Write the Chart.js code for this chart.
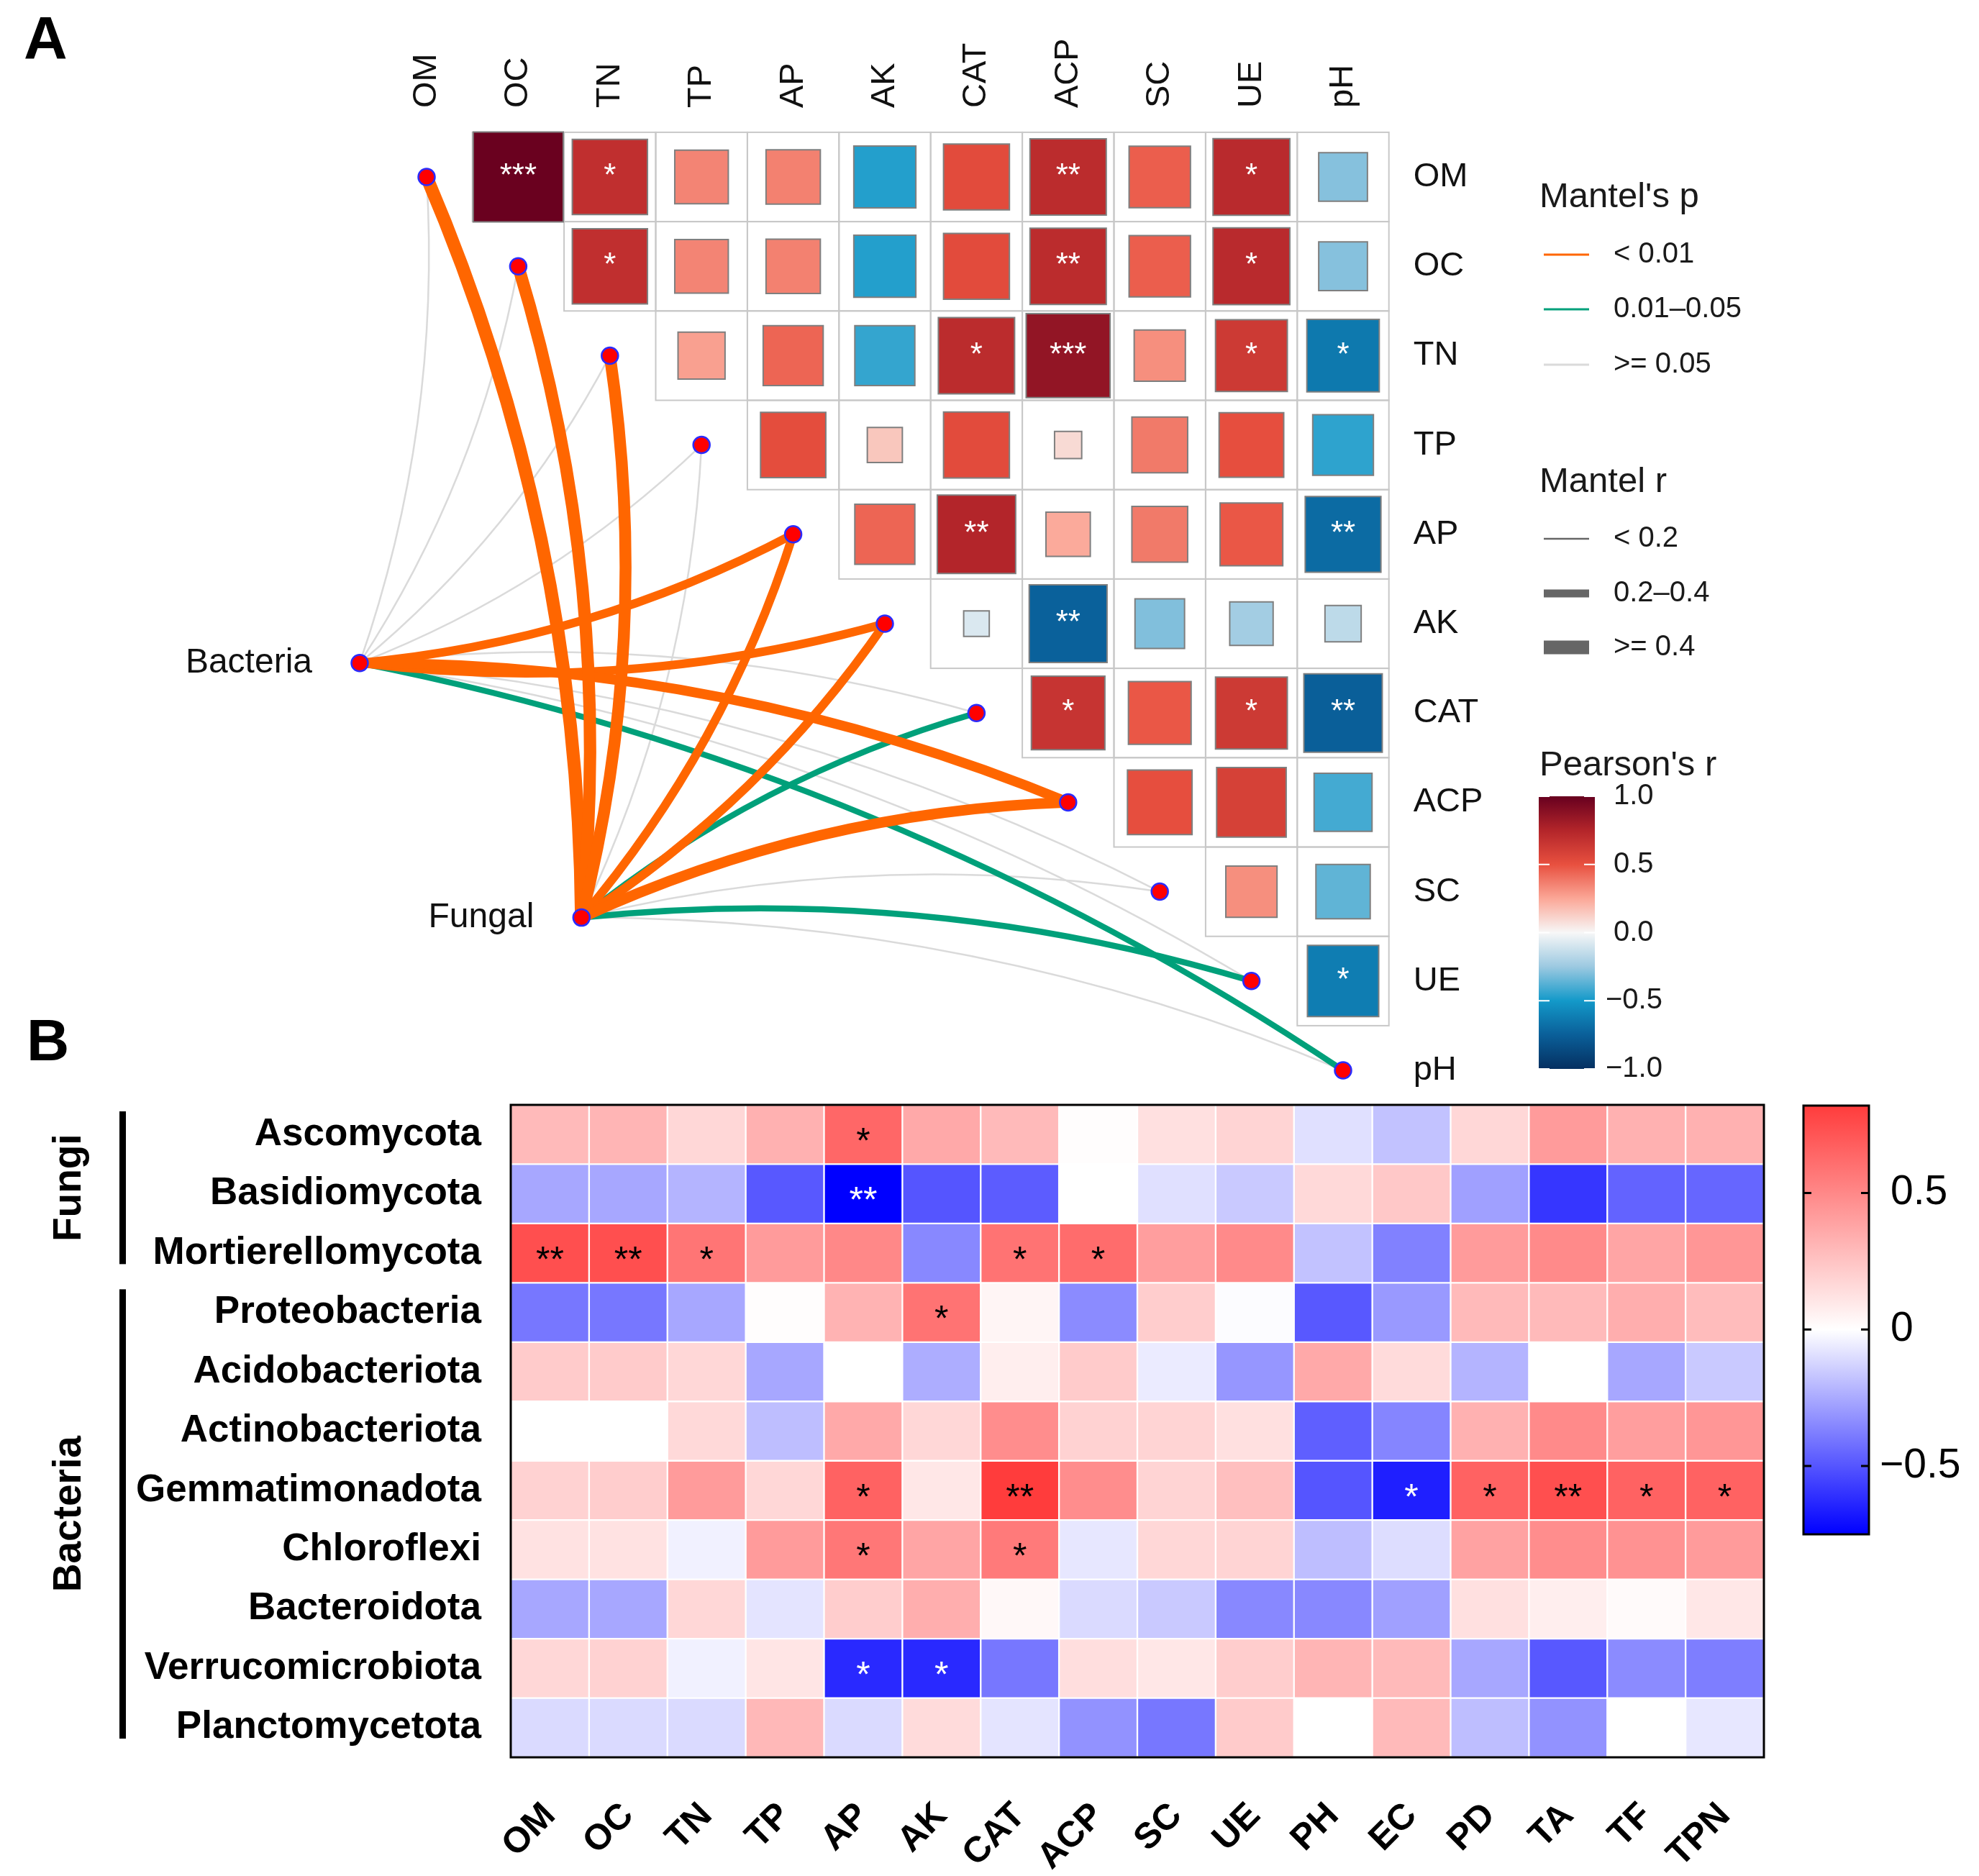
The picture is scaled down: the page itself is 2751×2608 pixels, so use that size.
<!DOCTYPE html>
<html><head><meta charset="utf-8">
<script src="https://cdn.jsdelivr.net/npm/chart.js@4.4.1/dist/chart.umd.min.js"></script>
<style>
html,body{margin:0;padding:0;background:#fff;}
#wrap{position:relative;width:2751px;height:2608px;background:#fff;}
canvas{position:absolute;left:0;top:0;width:2751px;height:2608px;}
</style></head><body>
<div id="wrap"><canvas id="cA" width="2751" height="2608"></canvas><canvas id="cB" width="2751" height="2608"></canvas></div>
<script>
// ---------------- DATA : panel A ----------------
const envA = ['OM','OC','TN','TP','AP','AK','CAT','ACP','SC','UE','pH'];
// Pearson's r, upper triangle (row variable vs following variables)
const corrOM  = [0.99,0.69,0.35,0.36,-0.47,0.53,0.71,0.46,0.72,-0.29];
const corrOC  = [0.69,0.35,0.36,-0.47,0.53,0.71,0.46,0.72,-0.29];
const corrTN  = [0.27,0.44,-0.44,0.71,0.86,0.32,0.63,-0.64];
const corrTP  = [0.52,0.15,0.53,0.09,0.38,0.51,-0.45];
const corrAP  = [0.44,0.75,0.24,0.38,0.48,-0.70];
const corrAK  = [-0.08,-0.74,-0.30,-0.23,-0.16];
const corrCAT = [0.66,0.48,0.63,-0.75];
const corrACP = [0.51,0.59,-0.41];
const corrSC  = [0.32,-0.36];
const corrUE  = [-0.62];
const sigOM  = ['***','*','','','','','**','','*',''];
const sigOC  = ['*','','','','','**','','*',''];
const sigTN  = ['','','','*','***','','*','*'];
const sigTP  = ['','','','','','',''];
const sigAP  = ['','**','','','','**'];
const sigAK  = ['','**','','',''];
const sigCAT = ['*','','*','**'];
const sigACP = ['','',''];
const sigSC  = ['',''];
const sigUE  = ['*'];
// Mantel test (species table vs each variable)
const mantelSpec = ['Bacteria','Fungal'];
const mantelBacteriaR = [0.08,0.07,0.08,0.06,0.36,0.36,0.10,0.42,0.10,0.12,0.24];
const mantelBacteriaP = [0.32,0.35,0.28,0.45,0.001,0.004,0.12,0.001,0.20,0.15,0.03];
const mantelFungalR   = [0.55,0.52,0.50,0.09,0.36,0.36,0.24,0.45,0.10,0.25,0.12];
const mantelFungalP   = [0.001,0.001,0.002,0.20,0.003,0.004,0.02,0.001,0.15,0.03,0.12];

// ---------------- DATA : panel B ----------------
const envB  = ['OM','OC','TN','TP','AP','AK','CAT','ACP','SC','UE','PH','EC','PD','TA','TF','TPN'];
const phyla = ['Ascomycota','Basidiomycota','Mortierellomycota','Proteobacteria','Acidobacteriota','Actinobacteriota','Gemmatimonadota','Chloroflexi','Bacteroidota','Verrucomicrobiota','Planctomycetota'];
const rAscomycota        = [0.29,0.31,0.17,0.33,0.64,0.36,0.29,0.01,0.13,0.18,-0.09,-0.18,0.17,0.42,0.33,0.33];
const rBasidiomycota     = [-0.26,-0.26,-0.22,-0.49,-0.75,-0.50,-0.48,0.00,-0.09,-0.16,0.16,0.23,-0.28,-0.59,-0.46,-0.45];
const rMortierellomycota = [0.74,0.74,0.58,0.42,0.50,-0.35,0.59,0.62,0.41,0.49,-0.18,-0.37,0.42,0.49,0.38,0.44];
const rProteobacteria    = [-0.40,-0.40,-0.26,0.01,0.32,0.59,0.04,-0.34,0.21,-0.01,-0.49,-0.30,0.29,0.29,0.34,0.28];
const rAcidobacteriota   = [0.22,0.22,0.17,-0.26,0.00,-0.24,0.07,0.22,-0.06,-0.31,0.36,0.15,-0.22,0.00,-0.26,-0.16];
const rActinobacteriota  = [0.00,0.00,0.16,-0.19,0.36,0.17,0.48,0.19,0.18,0.13,-0.47,-0.36,0.33,0.49,0.41,0.44];
const rGemmatimonadota   = [0.19,0.21,0.42,0.17,0.66,0.10,0.82,0.48,0.18,0.27,-0.50,-0.66,0.66,0.74,0.66,0.66];
const rChloroflexi       = [0.12,0.12,-0.04,0.42,0.57,0.38,0.56,-0.07,0.17,0.18,-0.19,-0.10,0.39,0.48,0.46,0.42];
const rBacteroidota      = [-0.26,-0.26,0.17,-0.08,0.21,0.34,0.03,-0.11,-0.16,-0.35,-0.35,-0.28,0.13,0.07,0.02,0.10];
const rVerrucomicrobiota = [0.17,0.19,-0.04,0.11,-0.63,-0.63,-0.40,0.14,0.10,0.21,0.31,0.29,-0.26,-0.49,-0.34,-0.38];
const rPlanctomycetota   = [-0.11,-0.11,-0.11,0.30,-0.11,0.15,-0.08,-0.32,-0.40,0.22,0.00,0.29,-0.19,-0.32,0.00,-0.07];
const sAscomycota        = ['','','','','*','','','','','','','','','','',''];
const sBasidiomycota     = ['','','','','**','','','','','','','','','','',''];
const sMortierellomycota = ['**','**','*','','','','*','*','','','','','','','',''];
const sProteobacteria    = ['','','','','','*','','','','','','','','','',''];
const sAcidobacteriota   = ['','','','','','','','','','','','','','','',''];
const sActinobacteriota  = ['','','','','','','','','','','','','','','',''];
const sGemmatimonadota   = ['','','','','*','','**','','','','','*','*','**','*','*'];
const sChloroflexi       = ['','','','','*','','*','','','','','','','','',''];
const sBacteroidota      = ['','','','','','','','','','','','','','','',''];
const sVerrucomicrobiota = ['','','','','*','*','','','','','','','','','',''];
const sPlanctomycetota   = ['','','','','','','','','','','','','','','',''];
const groupNames = ['Fungi','Bacteria'];
const groupRows  = [[0,3],[3,11]];
const colorTicksA = [1.0,0.5,0.0,-0.5,-1.0];
const colorTicksB = [0.5,0,-0.5];

// ---------------- derived tables ----------------
const corrRows = [corrOM,corrOC,corrTN,corrTP,corrAP,corrAK,corrCAT,corrACP,corrSC,corrUE];
const sigRows  = [sigOM,sigOC,sigTN,sigTP,sigAP,sigAK,sigCAT,sigACP,sigSC,sigUE];
const rowsB = [rAscomycota,rBasidiomycota,rMortierellomycota,rProteobacteria,rAcidobacteriota,rActinobacteriota,rGemmatimonadota,rChloroflexi,rBacteroidota,rVerrucomicrobiota,rPlanctomycetota];
const starsB = [sAscomycota,sBasidiomycota,sMortierellomycota,sProteobacteria,sAcidobacteriota,sActinobacteriota,sGemmatimonadota,sChloroflexi,sBacteroidota,sVerrucomicrobiota,sPlanctomycetota];
const mantelR = [mantelBacteriaR, mantelFungalR];
const mantelP = [mantelBacteriaP, mantelFungalP];

// ---------------- layout / style ----------------
const W = 2751, H = 2608;
const FONT = "'Liberation Sans', Arial, Helvetica, sans-serif";
const LA = {x0:593, dx:127.4, y0:246, dy:124.2, xmin:-4.5, xmax:10.5, ymin:-1.8, ymax:10.5};
const specPos = [[-0.73,5.44],[1.69,8.29]];   // node positions of Bacteria / Fungal (axis units)
const stopsA = [[-1,'#053061'],[-0.75,'#0A5F99'],[-0.5,'#1399C9'],[-0.25,'#9CC9E1'],[0,'#F7F7F7'],[0.25,'#FBA797'],[0.5,'#E8503F'],[0.75,'#B3252A'],[1,'#67001F']];
const ORANGE = '#FF6600', GREEN = '#00A07A', GREY = '#DADADA';

function hex2rgb(h){return [parseInt(h.slice(1,3),16),parseInt(h.slice(3,5),16),parseInt(h.slice(5,7),16)];}
function colorA(v){
  v = Math.max(-1, Math.min(1, v));
  for (let k=0;k<stopsA.length-1;k++){
    const a=stopsA[k][0], b=stopsA[k+1][0];
    if (v<=b){ const t=(v-a)/(b-a); const A=hex2rgb(stopsA[k][1]), B=hex2rgb(stopsA[k+1][1]);
      return 'rgb('+A.map((x,i)=>Math.round(x+(B[i]-x)*t)).join(',')+')'; }
  }
  return stopsA[stopsA.length-1][1];
}
const B_NEG = 0.75, B_POS = 0.82;
function colorB(v){
  if (v<0){ const t=Math.min(1,-v/B_NEG); const c=Math.round(255*(1-t)); return `rgb(${c},${c},255)`; }
  const t=Math.min(1,v/B_POS); const c=Math.round(255-195*t); return `rgb(255,${c},${c})`;
}
function pClass(p){ return p<0.01 ? 0 : (p<0.05 ? 1 : 2); }
function pColor(p){ return [ORANGE,GREEN,GREY][pClass(p)]; }
function rWidth(r){ return r<0.2 ? 2.5 : Math.min(19, 32*r+0.5); }

// ---------------- Chart A ----------------
const cellPts = [];
corrRows.forEach((row,i)=>row.forEach((v,k)=>{ cellPts.push({x:i+1+k, y:i, v:v, s:sigRows[i][k]}); }));
const nodePts = envA.map((n,i)=>({x:i,y:i})).concat(specPos.map(p=>({x:p[0],y:p[1]})));

function sqRadius(c){
  if (!c.raw || !c.chart.chartArea) return 0;
  const xs=c.chart.scales.x, ys=c.chart.scales.y;
  const cell=(Math.abs(xs.getPixelForValue(1)-xs.getPixelForValue(0))+Math.abs(ys.getPixelForValue(1)-ys.getPixelForValue(0)))/2;
  return Math.sqrt(Math.abs(c.raw.v))*cell/Math.SQRT2;
}

const panelA = {
  id:'panelA',
  beforeDatasetsDraw(chart){
    const ctx=chart.ctx, xs=chart.scales.x, ys=chart.scales.y;
    const X=v=>xs.getPixelForValue(v), Y=v=>ys.getPixelForValue(v);
    ctx.save();
    // grid of the triangle
    ctx.strokeStyle='#C8C8C8'; ctx.lineWidth=2;
    for (let i=0;i<envA.length;i++) for (let j=i+1;j<envA.length;j++){
      ctx.strokeRect(X(j-0.5), Y(i-0.5), X(j+0.5)-X(j-0.5), Y(i+0.5)-Y(i-0.5));
    }
    // Mantel links
    const links=[];
    mantelSpec.forEach((s,si)=>envA.forEach((e,j)=>links.push({si, j, r:mantelR[si][j], p:mantelP[si][j]})));
    links.sort((a,b)=>pClass(b.p)-pClass(a.p));
    links.forEach(l=>{
      const p0={x:X(specPos[l.si][0]), y:Y(specPos[l.si][1])};
      const p1={x:X(l.j), y:Y(l.j)};
      const dx=p1.x-p0.x, dy=p1.y-p0.y, L=Math.hypot(dx,dy);
      const sign = l.j < envA.length/2 ? 1 : -1;
      const h=0.1*L*sign, nx=-dy/L, ny=dx/L;
      const cx=(p0.x+p1.x)/2+nx*h, cy=(p0.y+p1.y)/2+ny*h;
      ctx.beginPath(); ctx.moveTo(p0.x,p0.y); ctx.quadraticCurveTo(cx,cy,p1.x,p1.y);
      ctx.strokeStyle=pColor(l.p); ctx.lineWidth=rWidth(l.r); ctx.lineCap='butt'; ctx.stroke();
    });
    ctx.restore();
  },
  afterDatasetsDraw(chart){
    const ctx=chart.ctx, xs=chart.scales.x, ys=chart.scales.y;
    const X=v=>xs.getPixelForValue(v), Y=v=>ys.getPixelForValue(v);
    ctx.save();
    // significance stars
    ctx.fillStyle='#FFFFFF'; ctx.font=`44px ${FONT}`; ctx.textAlign='center'; ctx.textBaseline='middle';
    cellPts.forEach(p=>{ if(p.s) ctx.fillText(p.s, X(p.x), Y(p.y)); });
    // column labels (top, rotated)
    ctx.fillStyle='#111'; ctx.font=`47px ${FONT}`;
    envA.forEach((e,j)=>{ ctx.save(); ctx.translate(X(j), 150); ctx.rotate(-Math.PI/2); ctx.textAlign='left'; ctx.textBaseline='middle'; ctx.fillText(e,0,0); ctx.restore(); });
    // row labels (right)
    ctx.textAlign='left'; ctx.textBaseline='middle';
    envA.forEach((e,i)=>ctx.fillText(e, X(10.5)+34, Y(i)));
    // species labels
    ctx.font=`48px ${FONT}`; ctx.textAlign='right';
    mantelSpec.forEach((s,si)=>ctx.fillText(s, X(specPos[si][0])-66, Y(specPos[si][1])));
    // panel letter
    ctx.font=`bold 84px ${FONT}`; ctx.textAlign='left'; ctx.textBaseline='alphabetic'; ctx.fillStyle='#000';
    ctx.fillText('A', 33, 82);
    // ---- legends ----
    const lx0=2146, lx1=2209, tx=2243;
    ctx.fillStyle='#1a1a1a';
    ctx.font=`49px ${FONT}`; ctx.fillText("Mantel's p", 2140, 288);
    ctx.font=`40px ${FONT}`; ctx.textBaseline='middle';
    const pLab=['< 0.01','0.01\u20130.05','>= 0.05'], pCol=[ORANGE,GREEN,GREY], pY=[354,430,507];
    pLab.forEach((t,k)=>{ ctx.strokeStyle=pCol[k]; ctx.lineWidth=3; ctx.beginPath(); ctx.moveTo(lx0,pY[k]); ctx.lineTo(lx1,pY[k]); ctx.stroke(); ctx.fillText(t,tx,pY[k]); });
    ctx.textBaseline='alphabetic'; ctx.font=`49px ${FONT}`; ctx.fillText('Mantel r', 2140, 684);
    ctx.font=`40px ${FONT}`; ctx.textBaseline='middle';
    const rLab=['< 0.2','0.2\u20130.4','>= 0.4'], rW=[2.5,11,19], rY=[749,825,900];
    rLab.forEach((t,k)=>{ ctx.strokeStyle='#666666'; ctx.lineWidth=rW[k]; ctx.beginPath(); ctx.moveTo(lx0,rY[k]); ctx.lineTo(lx1,rY[k]); ctx.stroke(); ctx.fillText(t,tx,rY[k]); });
    ctx.textBaseline='alphabetic'; ctx.font=`49px ${FONT}`; ctx.fillText("Pearson's r", 2140, 1078);
    // colour bar
    const cbx=2139, cbw=78, cbt=1107, cbb=1486;
    const g=ctx.createLinearGradient(0,cbt,0,cbb);
    stopsA.forEach(s=>g.addColorStop((1-s[0])/2, s[1]));
    ctx.fillStyle=g; ctx.fillRect(cbx,cbt,cbw,cbb-cbt);
    ctx.strokeStyle='#FFFFFF'; ctx.lineWidth=2;
    ctx.font=`40px ${FONT}`; ctx.textBaseline='middle';
    colorTicksA.forEach(v=>{
      const y=cbt+(1-v)/2*(cbb-cbt);
      ctx.beginPath(); ctx.moveTo(cbx,y); ctx.lineTo(cbx+15,y); ctx.moveTo(cbx+cbw-15,y); ctx.lineTo(cbx+cbw,y); ctx.stroke();
      ctx.fillStyle='#1a1a1a';
      ctx.fillText((v<0?'\u2212':'')+Math.abs(v).toFixed(1), v<0?2232:2243, y);
    });
    ctx.restore();
  }
};

new Chart(document.getElementById('cA'), {
  type:'scatter',
  data:{datasets:[
    {label:'nodes', data:nodePts, pointStyle:'circle', radius:11.5, backgroundColor:'#FF0000', borderColor:'#2B2BFF', borderWidth:2.5, order:0, clip:false},
    {label:'pearson', data:cellPts, pointStyle:'rect', radius:sqRadius,
     backgroundColor:c=>c.raw?colorA(c.raw.v):'#fff', borderColor:'#7F7F7F', borderWidth:2, order:1, clip:false}
  ]},
  options:{
    responsive:false, animation:false, events:[],
    layout:{padding:{
      left: LA.x0+LA.xmin*LA.dx,
      right: W-(LA.x0+LA.xmax*LA.dx),
      top: LA.y0+LA.ymin*LA.dy,
      bottom: H-(LA.y0+LA.ymax*LA.dy)}},
    scales:{
      x:{type:'linear', min:LA.xmin, max:LA.xmax, display:false},
      y:{type:'linear', min:LA.ymin, max:LA.ymax, reverse:true, display:false}
    },
    plugins:{legend:{display:false}, tooltip:{enabled:false}}
  },
  plugins:[panelA]
});

// ---------------- Chart B ----------------
const panelB = {
  id:'panelB',
  afterDraw(chart){
    const ctx=chart.ctx, xs=chart.scales.x, ys=chart.scales.y, ca=chart.chartArea;
    ctx.save();
    // stars
    ctx.font=`50px ${FONT}`; ctx.textAlign='center'; ctx.textBaseline='middle';
    starsB.forEach((row,i)=>row.forEach((s,j)=>{
      if(!s) return;
      ctx.fillStyle = rowsB[i][j] < -0.55 ? '#FFFFFF' : '#000000';
      ctx.fillText(s, xs.getPixelForValue(j), ys.getPixelForValue(i+0.5)+12);
    }));
    // outer frame
    ctx.strokeStyle='#000'; ctx.lineWidth=3;
    ctx.strokeRect(ca.left, ca.top, ca.right-ca.left, ca.bottom-ca.top);
    // group brackets & labels
    groupNames.forEach((g,k)=>{
      const y0=ys.getPixelForValue(groupRows[k][0])+9, y1=ys.getPixelForValue(groupRows[k][1])-26;
      ctx.fillStyle='#000'; ctx.fillRect(166, y0, 9, y1-y0);
      ctx.save(); ctx.translate(97,(y0+y1)/2); ctx.rotate(-Math.PI/2);
      ctx.font=`bold 55px ${FONT}`; ctx.textAlign='center'; ctx.textBaseline='middle'; ctx.fillText(g,0,0); ctx.restore();
    });
    // colour bar
    const bx=2507, bw=91, bt=1537, bb=2133, vt=B_POS, vb=-B_NEG;
    const yv=v=>bt+(vt-v)/(vt-vb)*(bb-bt);
    const g=ctx.createLinearGradient(0,bt,0,bb);
    g.addColorStop(0,colorB(vt)); g.addColorStop((vt-0)/(vt-vb),'#FFFFFF'); g.addColorStop(1,colorB(vb));
    ctx.fillStyle=g; ctx.fillRect(bx,bt,bw,bb-bt);
    ctx.strokeStyle='#000'; ctx.lineWidth=3; ctx.strokeRect(bx,bt,bw,bb-bt);
    ctx.fillStyle='#000'; ctx.font=`57px ${FONT}`; ctx.textAlign='left'; ctx.textBaseline='middle';
    colorTicksB.forEach(v=>{
      const y=yv(v);
      ctx.beginPath(); ctx.moveTo(bx,y); ctx.lineTo(bx+11,y); ctx.moveTo(bx+bw-11,y); ctx.lineTo(bx+bw,y); ctx.stroke();
      ctx.fillText(v===0?'0':(v<0?'\u2212':'')+Math.abs(v).toFixed(1), v<0?2613:2628, y);
    });
    // panel letter
    ctx.font=`bold 82px ${FONT}`; ctx.textBaseline='alphabetic'; ctx.fillText('B', 37, 1474);
    ctx.restore();
  }
};

new Chart(document.getElementById('cB'), {
  type:'bar',
  data:{labels:envB, datasets:phyla.map((p,i)=>({
    label:p, data:envB.map(()=>1), backgroundColor:rowsB[i].map(colorB),
    borderColor:'#FFFFFF', borderWidth:1.5, borderSkipped:false, categoryPercentage:1, barPercentage:1
  }))},
  options:{
    responsive:false, animation:false, events:[],
    layout:{padding:{left:0, right:W-2452, top:1536, bottom:0}},
    scales:{
      x:{stacked:true, grid:{display:false, drawTicks:false}, border:{display:false},
         ticks:{font:{family:FONT, size:50, weight:'bold'}, color:'#000', minRotation:45, maxRotation:45, autoSkip:false, padding:52},
         afterFit:s=>{s.height=H-2443;}},
      y:{stacked:true, min:0, max:11, reverse:true, grid:{display:false, drawTicks:false}, border:{display:false},
         afterBuildTicks:s=>{s.ticks=phyla.map((p,i)=>({value:i+0.5}));},
         ticks:{callback:(v,i)=>phyla[i], font:{family:FONT, size:53, weight:'bold'}, color:'#000', padding:41, autoSkip:false},
         afterFit:s=>{s.width=710;}}
    },
    plugins:{legend:{display:false}, tooltip:{enabled:false}}
  },
  plugins:[panelB]
});
</script></body></html>
